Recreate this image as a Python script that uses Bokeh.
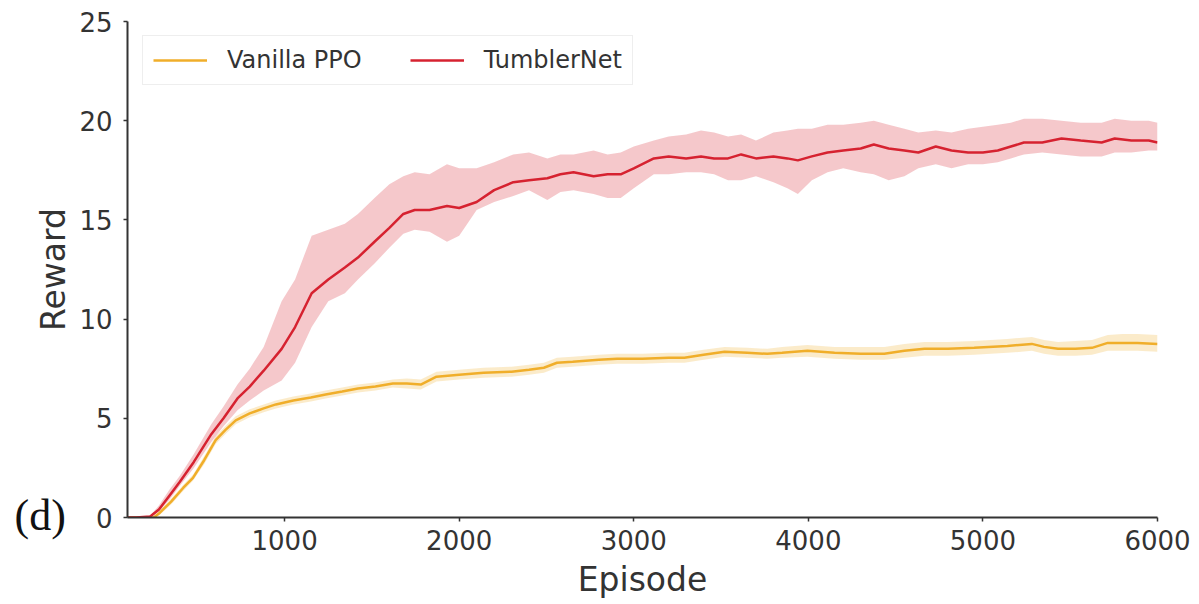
from bokeh.plotting import figure
from bokeh.models import Range1d, FixedTicker, Legend, LegendItem, Title, ColumnDataSource
from bokeh.embed import file_html
from bokeh.resources import INLINE

# ---------------- data ----------------
tn_episode = [100, 150, 230, 280, 340, 400, 480, 580, 650, 730, 800, 880, 983, 1060, 1155, 1250,
              1345, 1420, 1515, 1600, 1680, 1745, 1830, 1930, 2000, 2100, 2200, 2310, 2400, 2505,
              2580, 2655, 2770, 2850, 2925, 3000, 3115, 3200, 3300, 3385, 3460, 3540, 3615, 3700,
              3800, 3880, 3940, 4020, 4110, 4200, 4300, 4375, 4460, 4550, 4630, 4730, 4820, 4915,
              5000, 5085, 5160, 5235, 5340, 5450, 5560, 5680, 5755, 5850, 5950, 6000]
tn_mean = [0, 0, 0.05, 0.4, 1.1, 1.8, 2.8, 4.2, 5.0, 6.0, 6.6, 7.4, 8.5, 9.6, 11.3, 12.0,
           12.6, 13.1, 13.9, 14.6, 15.3, 15.5, 15.5, 15.7, 15.6, 15.9, 16.5, 16.9, 17.0, 17.1,
           17.3, 17.4, 17.2, 17.3, 17.3, 17.6, 18.1, 18.2, 18.1, 18.2, 18.1, 18.1, 18.3, 18.1,
           18.2, 18.1, 18.0, 18.2, 18.4, 18.5, 18.6, 18.8, 18.6, 18.5, 18.4, 18.7, 18.5, 18.4,
           18.4, 18.5, 18.7, 18.9, 18.9, 19.1, 19.0, 18.9, 19.1, 19.0, 19.0, 18.9]
tn_lower = [0, 0, 0, 0.3, 0.9, 1.6, 2.5, 3.8, 4.6, 5.4, 5.9, 6.4, 6.9, 7.8, 9.6, 10.9,
            11.3, 12.0, 12.8, 13.6, 14.3, 14.5, 14.4, 13.9, 14.2, 15.5, 15.9, 16.2, 16.5, 16.0,
            16.4, 16.5, 16.3, 16.1, 16.1, 16.6, 17.3, 17.3, 17.4, 17.4, 17.3, 17.0, 17.0, 17.2,
            16.9, 16.6, 16.3, 17.0, 17.4, 17.6, 17.4, 17.3, 17.0, 17.2, 17.6, 17.8, 17.6, 17.8,
            17.8, 17.9, 18.1, 18.3, 18.4, 18.3, 18.2, 18.2, 18.4, 18.4, 18.5, 18.5]
tn_upper = [0, 0, 0.1, 0.6, 1.4, 2.1, 3.2, 4.7, 5.6, 6.7, 7.5, 8.6, 10.9, 12.0, 14.2, 14.5,
            14.8, 15.3, 16.1, 16.8, 17.2, 17.4, 17.3, 17.8, 17.6, 17.6, 17.9, 18.3, 18.4, 18.1,
            18.3, 18.3, 18.5, 18.3, 18.4, 18.7, 19.0, 19.2, 19.3, 19.5, 19.4, 19.2, 19.3, 19.0,
            19.4, 19.5, 19.6, 19.6, 19.8, 19.8, 19.9, 20.0, 19.8, 19.6, 19.4, 19.5, 19.4, 19.6,
            19.7, 19.8, 19.9, 20.1, 20.1, 20.0, 19.9, 19.9, 20.1, 20.0, 20.0, 19.9]

ppo_episode = [100, 200, 250, 280, 350, 420, 475, 540, 605, 660, 720, 800, 880, 950, 1050, 1150,
               1235, 1330, 1420, 1520, 1620, 1700, 1780, 1870, 2000, 2140, 2300, 2400, 2485, 2560,
               2650, 2800, 2905, 3050, 3200, 3290, 3400, 3520, 3650, 3765, 3850, 3995, 4150, 4300,
               4435, 4550, 4665, 4800, 4950, 5140, 5280, 5350, 5430, 5530, 5625, 5715, 5800, 5885, 6000]
ppo_mean = [0, 0, 0.0, 0.2, 0.8, 1.5, 2.0, 2.9, 3.9, 4.4, 4.9, 5.25, 5.5, 5.7, 5.9, 6.05,
            6.2, 6.35, 6.5, 6.6, 6.75, 6.75, 6.7, 7.1, 7.2, 7.3, 7.35, 7.45, 7.55, 7.8,
            7.85, 7.95, 8.0, 8.0, 8.05, 8.05, 8.2, 8.35, 8.3, 8.25, 8.3, 8.4, 8.3, 8.25,
            8.25, 8.4, 8.5, 8.5, 8.55, 8.65, 8.75, 8.6, 8.5, 8.5, 8.55, 8.8, 8.8, 8.8, 8.75]
ppo_lower = [0, 0, 0, 0.1, 0.65, 1.35, 1.85, 2.7, 3.7, 4.2, 4.7, 5.05, 5.3, 5.5, 5.7, 5.85,
             6.0, 6.15, 6.3, 6.4, 6.55, 6.5, 6.45, 6.85, 6.95, 7.05, 7.1, 7.2, 7.3, 7.55,
             7.6, 7.7, 7.75, 7.75, 7.8, 7.8, 7.95, 8.1, 8.05, 8.0, 8.05, 8.1, 8.0, 7.95,
             7.95, 8.05, 8.15, 8.15, 8.2, 8.3, 8.4, 8.25, 8.15, 8.15, 8.2, 8.4, 8.4, 8.4, 8.35]
ppo_upper = [0, 0, 0.05, 0.3, 0.95, 1.65, 2.15, 3.1, 4.1, 4.6, 5.1, 5.45, 5.7, 5.9, 6.1, 6.25,
             6.4, 6.55, 6.7, 6.8, 6.95, 7.0, 6.95, 7.35, 7.45, 7.55, 7.6, 7.7, 7.8, 8.05,
             8.1, 8.2, 8.25, 8.25, 8.3, 8.3, 8.45, 8.6, 8.55, 8.5, 8.6, 8.7, 8.6, 8.6,
             8.6, 8.75, 8.85, 8.85, 8.9, 9.0, 9.1, 8.95, 8.85, 8.9, 8.95, 9.2, 9.25, 9.25, 9.2]

x_ticks = [1000, 2000, 3000, 4000, 5000, 6000]
y_ticks = [0, 5, 10, 15, 20, 25]
series_names = ["Vanilla PPO", "TumblerNet"]
panel_tag = "(d)"

# ---------------- styling ----------------
RED = "#d62230"
YEL = "#f0ae2a"
TXT = "#333333"
FONT = "DejaVu Sans"

p = figure(width=1199, height=604, output_backend="svg", toolbar_location=None,
           x_range=Range1d(100, 6000), y_range=Range1d(0, 25),
           min_border_left=127, min_border_right=42, min_border_top=21, min_border_bottom=87)
p.outline_line_color = None
p.background_fill_color = "white"
p.border_fill_color = "white"
p.xgrid.visible = False
p.ygrid.visible = False

ppo_src = ColumnDataSource(dict(x=ppo_episode, m=ppo_mean, lo=ppo_lower, hi=ppo_upper))
tn_src = ColumnDataSource(dict(x=tn_episode, m=tn_mean, lo=tn_lower, hi=tn_upper))

p.varea(x="x", y1="lo", y2="hi", source=ppo_src, fill_color=YEL, fill_alpha=0.25)
r_ppo = p.line(x="x", y="m", source=ppo_src, line_color=YEL, line_width=2.5)
p.varea(x="x", y1="lo", y2="hi", source=tn_src, fill_color=RED, fill_alpha=0.25)
r_tn = p.line(x="x", y="m", source=tn_src, line_color=RED, line_width=2.5)

for ax in (p.xaxis[0], p.yaxis[0]):
    ax.axis_line_color = TXT
    ax.axis_line_width = 2
    ax.major_tick_line_color = TXT
    ax.major_tick_line_width = 1.5
    ax.major_tick_out = 4
    ax.major_tick_in = 0
    ax.minor_tick_out = 0
    ax.minor_tick_in = 0
    ax.major_label_text_font = FONT
    ax.major_label_text_font_size = "26px"
    ax.major_label_text_color = TXT
    ax.axis_label_text_font = FONT
    ax.axis_label_text_font_size = "33px"
    ax.axis_label_text_font_style = "normal"
    ax.axis_label_text_color = TXT

p.xaxis[0].ticker = FixedTicker(ticks=x_ticks)
p.yaxis[0].ticker = FixedTicker(ticks=y_ticks)
p.xaxis[0].axis_label = "Episode"
p.yaxis[0].axis_label = "Reward"
p.xaxis[0].major_label_standoff = 8
p.yaxis[0].major_label_standoff = 11
p.xaxis[0].axis_label_standoff = 7
p.yaxis[0].axis_label_standoff = 3

legend = Legend(items=[LegendItem(label=series_names[0], renderers=[r_ppo]),
                       LegendItem(label=series_names[1], renderers=[r_tn])],
                orientation="horizontal", location=(15, 432))
legend.label_text_font = FONT
legend.label_text_font_size = "24px"
legend.label_text_color = TXT
legend.glyph_width = 54
legend.glyph_height = 24
legend.label_standoff = 20
legend.spacing = 48
legend.padding = 10
legend.margin = 0
legend.border_line_color = "#dddddd"
legend.border_line_width = 1
legend.background_fill_alpha = 0.9
p.add_layout(legend)

# panel tag "(d)": a title in the below panel, next to the frame, taking no height,
# shifted left of the y axis (side-panel annotations are not clipped to the frame)
tag = Title(text=panel_tag, text_font="Liberation Serif", text_font_size="44px",
            text_font_style="normal", text_color="#111111", align="left",
            vertical_align="top", offset=-113, standoff=-53)
p.below = [tag] + list(p.below)

open("out.html", "w").write(file_html(p, INLINE))
